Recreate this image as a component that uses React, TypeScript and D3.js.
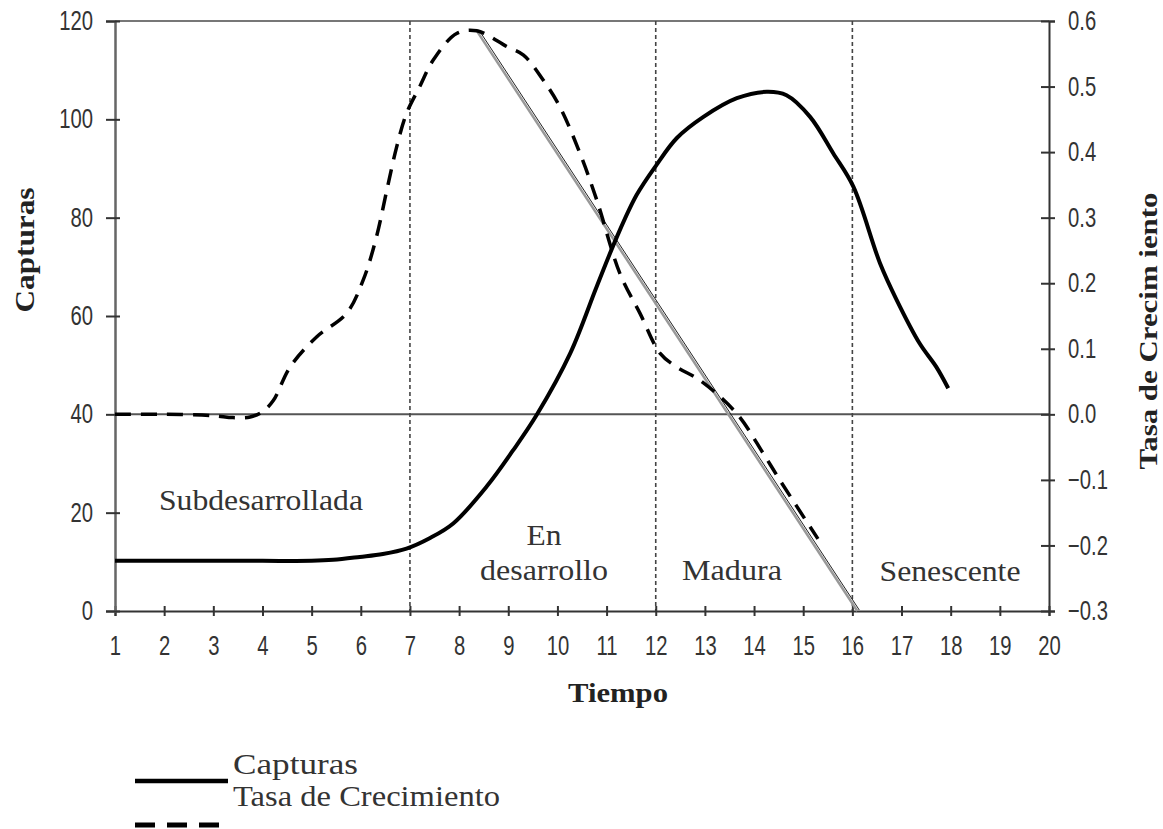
import * as d3 from 'd3';

import React, { useEffect, useRef } from 'react';

// Capturas (left axis)
const capturasTiempo = [1, 2, 3, 4, 5, 5.44, 5.98, 6.45, 6.93, 7.4, 7.88, 8.56, 9.1, 9.58, 10.26, 10.8, 11.21, 11.61, 12.02, 12.43, 12.97, 13.65, 14.26, 14.66, 15.14, 15.61, 16.02, 16.56, 16.9, 17.37, 17.71, 17.95];
const capturasValues = [10.2, 10.2, 10.2, 10.2, 10.2, 10.4, 11.0, 11.6, 12.7, 14.8, 17.8, 25.3, 32.7, 39.9, 52.4, 66, 76.1, 84.6, 90.8, 96.2, 100.5, 104.3, 105.6, 104.9, 100.5, 93.1, 86.3, 70.8, 63.3, 54.4, 49.6, 45.3];

// Tasa de crecimiento (right axis)
const tasaTiempo = [1, 2, 3, 3.4, 3.75, 4.0, 4.22, 4.56, 5.1, 5.71, 6.05, 6.32, 6.53, 6.73, 6.93, 7.2, 7.47, 7.95, 8.36, 8.97, 9.31, 9.71, 10.05, 10.46, 10.8, 11.27, 11.68, 12.09, 12.43, 12.9, 13.65, 14.19, 14.53, 15.3];
const tasaValues = [0, 0, -0.002, -0.005, -0.004, 0.004, 0.021, 0.072, 0.118, 0.154, 0.205, 0.271, 0.342, 0.408, 0.459, 0.5, 0.54, 0.581, 0.585, 0.561, 0.548, 0.51, 0.469, 0.398, 0.327, 0.215, 0.154, 0.093, 0.072, 0.052, 0.001, -0.06, -0.101, -0.19];

// straight decline line
const tendenciaTiempo = [8.36, 16.1];
const tendenciaValues = [0.585, -0.3];

const etapas = [7, 12, 16];
const xTicks = [1, 2, 3, 4, 5, 6, 7, 8, 9, 10, 11, 12, 13, 14, 15, 16, 17, 18, 19, 20];
const yLeftTicks = [0, 20, 40, 60, 80, 100, 120];
const yRightTicks = [-0.3, -0.2, -0.1, 0.0, 0.1, 0.2, 0.3, 0.4, 0.5, 0.6];

const W = 1163;
const H = 829;
const margin = { left: 115, right: 114, top: 21, bottom: 218 };
const SX = 0.75;

export default function App() {
  const ref = useRef(null);

  useEffect(() => {
    const svg = d3.select(ref.current);
    svg.selectAll('*').remove();

    const x = d3.scaleLinear().domain([1, 20]).range([margin.left, W - margin.right]);
    const yL = d3.scaleLinear().domain([0, 120]).range([H - margin.bottom, margin.top]);
    const yR = d3.scaleLinear().domain([-0.3, 0.6]).range([H - margin.bottom, margin.top]);

    const x0 = x.range()[0];
    const x1 = x.range()[1];
    const yTop = yL.range()[1];
    const yBot = yL.range()[0];

    // frame top + zero line
    svg.append('line').attr('x1', x0).attr('x2', x1).attr('y1', yTop).attr('y2', yTop)
      .attr('stroke', '#777').attr('stroke-width', 2);
    svg.append('line').attr('x1', x0).attr('x2', x1).attr('y1', yR(0)).attr('y2', yR(0))
      .attr('stroke', '#555').attr('stroke-width', 2);

    // stage dividers
    svg.append('g').selectAll('line').data(etapas).join('line')
      .attr('x1', (d) => x(d)).attr('x2', (d) => x(d))
      .attr('y1', yTop).attr('y2', yBot)
      .attr('stroke', '#444').attr('stroke-width', 1.6)
      .attr('stroke-dasharray', '4,3');

    const tickFont = (g: any) => g.selectAll('text')
      .attr('font-family', '"Liberation Sans", Arial, sans-serif')
      .attr('font-size', 27)
      .attr('fill', '#333');

    // bottom axis
    const gx = svg.append('g').attr('transform', `translate(0,${yBot})`)
      .call(d3.axisBottom(x).tickValues(xTicks).tickSizeOuter(0).tickSize(5).tickFormat(d3.format('d')));
    gx.select('.domain').attr('stroke', '#333').attr('stroke-width', 2);
    gx.selectAll('.tick line').attr('y1', -5).attr('y2', 5).attr('stroke', '#333').attr('stroke-width', 2);
    gx.selectAll('.tick text').attr('y', 25).attr('transform', `scale(${SX},1)`);
    tickFont(gx);

    // left axis
    const gl = svg.append('g').attr('transform', `translate(${x0},0)`)
      .call(d3.axisLeft(yL).tickValues(yLeftTicks).tickSizeOuter(0).tickSize(9));
    gl.select('.domain').attr('stroke', '#666').attr('stroke-width', 2.5);
    gl.selectAll('.tick line').attr('x1', -9).attr('x2', 5).attr('stroke', '#333').attr('stroke-width', 2);
    gl.selectAll('.tick text').attr('x', -22 / SX).attr('transform', `scale(${SX},1)`);
    tickFont(gl);

    // right axis
    const gr = svg.append('g').attr('transform', `translate(${x1},0)`)
      .call(d3.axisRight(yR).tickValues(yRightTicks).tickSizeOuter(0).tickSize(6).tickFormat(d3.format('.1f')));
    gr.select('.domain').attr('stroke', '#333').attr('stroke-width', 2);
    gr.selectAll('.tick line').attr('x1', -8).attr('x2', 6).attr('stroke', '#333').attr('stroke-width', 2);
    gr.selectAll('.tick text').attr('x', 19 / SX).attr('transform', `scale(${SX},1)`);
    tickFont(gr);

    // trend line (double, grey + black)
    const tendencia = tendenciaTiempo.map((t, i) => [t, tendenciaValues[i]] as [number, number]);
    const lineR = d3.line<[number, number]>().x((d) => x(d[0])).y((d) => yR(d[1]));
    svg.append('path').attr('d', lineR(tendencia)).attr('fill', 'none')
      .attr('stroke', '#999').attr('stroke-width', 2.5);
    svg.append('path').attr('d', lineR(tendencia)).attr('fill', 'none')
      .attr('transform', 'translate(2,-1)')
      .attr('stroke', '#222').attr('stroke-width', 1);

    // growth rate (dashed)
    const tasa = tasaTiempo.map((t, i) => [t, tasaValues[i]] as [number, number]);
    svg.append('path')
      .attr('d', d3.line<[number, number]>().x((d) => x(d[0])).y((d) => yR(d[1])).curve(d3.curveCatmullRom.alpha(0.5))(tasa))
      .attr('fill', 'none').attr('stroke', '#000').attr('stroke-width', 3.5)
      .attr('stroke-dasharray', '16,10');

    // catches (solid)
    const capturas = capturasTiempo.map((t, i) => [t, capturasValues[i]] as [number, number]);
    svg.append('path')
      .attr('d', d3.line<[number, number]>().x((d) => x(d[0])).y((d) => yL(d[1])).curve(d3.curveCatmullRom.alpha(0.5))(capturas))
      .attr('fill', 'none').attr('stroke', '#000').attr('stroke-width', 4);

    const serif = '"Liberation Serif", "Times New Roman", serif';

    // axis titles
    svg.append('text').text('Capturas')
      .attr('transform', 'translate(34,250) rotate(-90)')
      .attr('text-anchor', 'middle').attr('font-family', serif).attr('font-weight', 'bold')
      .attr('font-size', 27).attr('textLength', 125).attr('lengthAdjust', 'spacingAndGlyphs').attr('fill', '#222');
    svg.append('text').text('Tasa de Crecim iento')
      .attr('transform', 'translate(1157,331) rotate(-90)')
      .attr('text-anchor', 'middle').attr('font-family', serif).attr('font-weight', 'bold')
      .attr('font-size', 26).attr('textLength', 277).attr('lengthAdjust', 'spacingAndGlyphs').attr('fill', '#222');
    svg.append('text').text('Tiempo')
      .attr('x', 618).attr('y', 702)
      .attr('text-anchor', 'middle').attr('font-family', serif).attr('font-weight', 'bold')
      .attr('font-size', 27).attr('textLength', 100).attr('lengthAdjust', 'spacingAndGlyphs').attr('fill', '#222');

    // stage labels
    const etiquetas = [
      { t: 'Subdesarrollada', x: 261, y: 510, w: 204 },
      { t: 'En', x: 544, y: 545, w: 35 },
      { t: 'desarrollo', x: 544, y: 580, w: 128 },
      { t: 'Madura', x: 732, y: 580, w: 100 },
      { t: 'Senescente', x: 950, y: 581, w: 141 },
    ];
    svg.append('g').selectAll('text').data(etiquetas).join('text')
      .text((d) => d.t)
      .attr('x', (d) => d.x).attr('y', (d) => d.y)
      .attr('text-anchor', 'middle').attr('font-family', serif)
      .attr('font-size', 29).attr('fill', '#333')
      .attr('textLength', (d) => d.w).attr('lengthAdjust', 'spacingAndGlyphs');

    // legend
    const leg = svg.append('g');
    leg.append('line').attr('x1', 135).attr('x2', 228).attr('y1', 781).attr('y2', 781)
      .attr('stroke', '#000').attr('stroke-width', 4.5);
    leg.append('line').attr('x1', 135).attr('x2', 220).attr('y1', 825).attr('y2', 825)
      .attr('stroke', '#000').attr('stroke-width', 5).attr('stroke-dasharray', '20,12');
    leg.append('text').text('Capturas').attr('x', 233).attr('y', 774)
      .attr('font-family', serif).attr('font-size', 29).attr('fill', '#333')
      .attr('textLength', 125).attr('lengthAdjust', 'spacingAndGlyphs');
    leg.append('text').text('Tasa de Crecimiento').attr('x', 233).attr('y', 806)
      .attr('font-family', serif).attr('font-size', 29).attr('fill', '#333')
      .attr('textLength', 267).attr('lengthAdjust', 'spacingAndGlyphs');
  }, []);

  return (
    <svg
      ref={ref}
      width={W}
      height={H}
      style={{ position: 'absolute', left: 0, top: 0, background: '#fff' }}
    ></svg>
  );
}
